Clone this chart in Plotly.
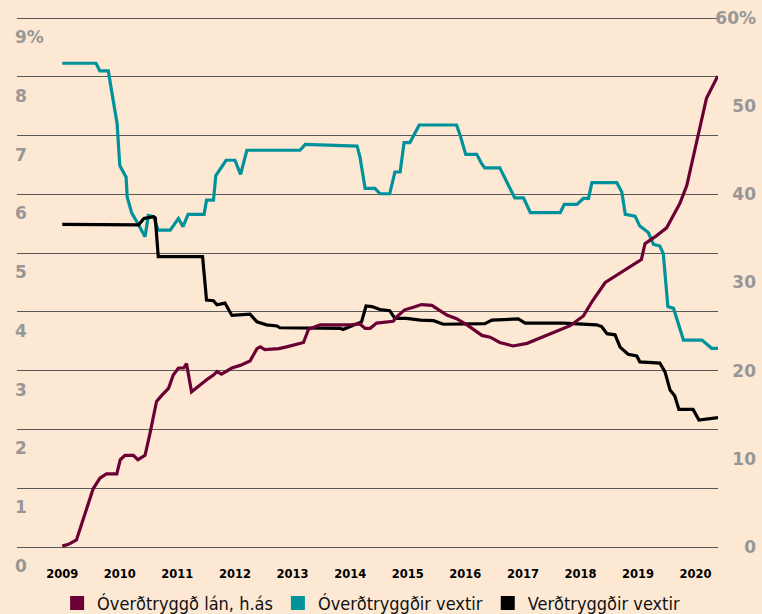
import plotly.graph_objects as go

# ---------------- data ----------------
# Óverðtryggð lán, h.ás (right axis, %)
loan_dates = ["2009-01-01","2009-02-10","2009-04-01","2009-05-26","2009-07-16","2009-08-28","2009-10-08","2009-12-13",
              "2010-01-04","2010-02-03","2010-03-28","2010-04-26","2010-06-10","2010-07-09","2010-08-22","2010-09-24",
              "2010-11-06","2010-12-06","2011-01-08","2011-02-10","2011-02-28","2011-04-01","2011-05-26","2011-07-16",
              "2011-08-18","2011-09-09","2011-10-08","2011-10-30","2011-12-13","2012-02-03","2012-04-06","2012-05-20",
              "2012-06-10","2012-07-09","2012-09-02","2012-10-05","2012-11-24","2013-01-08","2013-03-11","2013-04-12",
              "2013-06-25","2014-01-01","2014-03-04","2014-04-06","2014-05-08","2014-06-18","2014-10-01","2014-10-23",
              "2014-12-13","2015-02-06","2015-03-29","2015-06-03","2015-09-06","2015-11-07","2016-01-12","2016-04-16",
              "2016-06-07","2016-08-07","2016-10-30","2017-01-27","2017-05-31","2017-08-04","2017-10-27","2018-01-19",
              "2018-03-14","2018-06-07","2018-09-09","2019-01-22","2019-02-14","2019-04-20","2019-07-01","2019-09-24",
              "2019-11-06","2019-12-16","2020-01-30","2020-03-10","2020-05-20"]
loan_values = [0.1,0.3,0.8,3.8,6.6,7.8,8.3,8.3,
               9.9,10.4,10.4,9.9,10.4,12.7,16.5,17.2,
               18.0,19.5,20.3,20.3,20.8,17.6,18.4,19.1,
               19.5,19.9,19.6,19.8,20.3,20.6,21.1,22.5,
               22.7,22.4,22.5,22.5,22.7,22.9,23.2,24.7,
               25.2,25.2,25.3,24.8,24.8,25.4,25.6,26.1,
               26.9,27.2,27.5,27.4,26.3,25.9,25.2,24.0,
               23.8,23.2,22.8,23.1,24.0,24.4,25.1,26.2,
               27.8,30.0,31.1,32.6,34.4,35.2,36.2,39.0,
               41.0,44.3,47.7,50.9,53.4]

# Óverðtryggðir vextir (left axis, %)
nominal_dates = ["2009-01-01","2009-08-03","2009-08-28","2009-10-20","2009-11-10","2009-12-15","2010-01-01","2010-02-10",
                 "2010-02-17","2010-03-18","2010-04-20","2010-06-10","2010-07-01","2010-08-03","2010-09-02","2010-11-17",
                 "2011-01-08","2011-02-06","2011-03-10","2011-06-20","2011-07-05","2011-08-18","2011-09-02","2011-11-06",
                 "2012-01-01","2012-02-06","2012-03-17","2013-02-17","2013-03-22","2014-02-14","2014-03-04","2014-04-06",
                 "2014-06-07","2014-07-09","2014-09-09","2014-10-12","2014-11-14","2014-12-09","2015-01-15","2015-03-15",
                 "2015-11-07","2015-11-29","2016-01-04","2016-03-14","2016-04-12","2016-05-04","2016-08-07","2016-11-10",
                 "2017-01-04","2017-02-17","2017-08-26","2017-09-20","2017-12-09","2018-01-19","2018-02-21","2018-03-14",
                 "2018-08-19","2018-09-20","2018-10-12","2018-12-13","2019-01-12","2019-03-07","2019-04-09","2019-05-19",
                 "2019-06-10","2019-07-09","2019-08-14","2019-10-16","2020-02-10","2020-04-12","2020-05-22"]
nominal_values = [8.23,8.23,8.10,8.10,7.76,7.20,6.49,6.29,
                  5.95,5.68,5.53,5.28,5.64,5.62,5.39,5.39,
                  5.59,5.45,5.66,5.66,5.90,5.90,6.32,6.58,
                  6.58,6.34,6.75,6.75,6.85,6.82,6.64,6.10,
                  6.10,6.01,6.01,6.38,6.38,6.88,6.88,7.18,
                  7.18,7.01,6.68,6.68,6.53,6.45,6.45,5.94,
                  5.94,5.69,5.69,5.83,5.83,5.93,5.93,6.20,
                  6.20,6.04,5.66,5.63,5.46,5.35,5.15,5.12,
                  4.99,4.09,4.06,3.52,3.52,3.38,3.38]

# Verðtryggðir vextir (left axis, %)
indexed_dates = ["2009-01-01","2010-04-30","2010-06-03","2010-08-03","2010-08-14","2010-09-02","2011-06-10","2011-07-05",
                 "2011-08-18","2011-09-09","2011-10-30","2011-12-13","2012-04-06","2012-05-20","2012-07-20","2012-09-24",
                 "2012-10-12","2013-04-01","2013-10-30","2013-11-17","2014-01-22","2014-03-14","2014-04-12","2014-05-19",
                 "2014-07-09","2014-09-09","2014-10-12","2014-12-24","2015-03-22","2015-06-14","2015-08-15","2015-11-29",
                 "2016-05-04","2016-06-18","2016-12-02","2017-01-15","2017-09-13","2018-04-12","2018-05-15","2018-06-18",
                 "2018-08-08","2018-09-09","2018-10-30","2018-12-24","2019-01-12","2019-05-19","2019-06-21","2019-07-23",
                 "2019-08-22","2019-09-17","2019-12-16","2020-01-22","2020-05-22"]
indexed_values = [5.49,5.48,5.59,5.62,5.60,4.94,4.94,4.20,
                  4.19,4.12,4.15,3.94,3.96,3.83,3.78,3.76,
                  3.73,3.72,3.72,3.70,3.78,3.83,4.10,4.09,
                  4.04,4.02,3.89,3.89,3.86,3.85,3.79,3.79,
                  3.80,3.86,3.88,3.81,3.81,3.78,3.75,3.63,
                  3.61,3.40,3.28,3.25,3.15,3.13,2.98,2.67,
                  2.57,2.34,2.34,2.16,2.20]

series_names = ["Óverðtryggð lán, h.ás", "Óverðtryggðir vextir", "Verðtryggðir vextir"]

left_tickvals = [0, 1, 2, 3, 4, 5, 6, 7, 8, 9]
left_ticktext = ["0", "1", "2", "3", "4", "5", "6", "7", "8", "9%"]
right_tickvals = [0, 10, 20, 30, 40, 50, 60]
right_ticktext = ["0", "10", "20", "30", "40", "50", "60%"]
x_range = ["2008-03-20", "2020-05-22"]

# ---------------- style ----------------
BG = "#FCE8D3"
MAROON = "#6B0034"
TEAL = "#00929A"
BLACK = "#000000"
GRID = "#5a5a5a"
TICKGRAY = "#979797"
LW = 3.2
PADPX = 2                     # extra px above/below so edge gridlines are drawn
UNIT_PX = 58.8                # px per left-axis unit
EPS = PADPX / UNIT_PX

fig = go.Figure()
fig.add_trace(go.Scatter(x=nominal_dates, y=nominal_values, mode="lines",
                         line=dict(color=TEAL, width=LW), showlegend=False, yaxis="y"))
fig.add_trace(go.Scatter(x=indexed_dates, y=indexed_values, mode="lines",
                         line=dict(color=BLACK, width=LW), showlegend=False, yaxis="y"))
fig.add_trace(go.Scatter(x=loan_dates, y=loan_values, mode="lines",
                         line=dict(color=MAROON, width=LW), showlegend=False, yaxis="y2"))

# legend entries (square swatches)
for name, col in zip(series_names, [MAROON, TEAL, BLACK]):
    fig.add_trace(go.Scatter(x=[None], y=[None], mode="markers", name=name,
                             marker=dict(symbol="square", size=14, color=col)))

W, H = 762, 614
ml, mr, mt, mb = 17, 2, 18 - PADPX, 67 - PADPX
plot_right = 718
fig.update_layout(
    width=W, height=H,
    margin=dict(l=ml, r=mr, t=mt, b=mb, pad=0, autoexpand=False),
    paper_bgcolor=BG, plot_bgcolor=BG,
    xaxis=dict(domain=[0, (plot_right - ml) / (W - ml - mr)], range=x_range, type="date",
               automargin=False,
               showgrid=False, zeroline=False, showline=False,
               tick0="2009-01-01", dtick="M12", tickformat="%Y",
               ticks="outside", ticklen=0, ticklabelstandoff=16 - PADPX,
               tickfont=dict(family="DejaVu Sans", size=11.5, color="#000000", weight="bold")),
    yaxis=dict(range=[-EPS, 9 + EPS], tickvals=left_tickvals, ticktext=left_ticktext,
               automargin=False,
               showgrid=True, gridcolor=GRID, gridwidth=1.2, zeroline=False, showline=False,
               ticklabelposition="inside", ticklabeloverflow="allow", ticklabelshift=19,
               ticklabelstandoff=-5,
               tickfont=dict(family="DejaVu Sans", size=17, color=TICKGRAY, weight="bold")),
    yaxis2=dict(range=[-EPS * 60 / 9, 60 + EPS * 60 / 9], tickvals=right_tickvals, ticktext=right_ticktext,
                automargin=False,
                overlaying="y", anchor="free", position=1.0, side="right",
                showgrid=False, zeroline=False, showline=False,
                ticklabelposition="inside", ticklabeloverflow="allow", ticklabelstandoff=1,
                tickfont=dict(family="DejaVu Sans", size=17, color=TICKGRAY, weight="bold")),
    legend=dict(orientation="h", x=0.054, xanchor="left", y=-0.102, yanchor="middle",
                bgcolor="rgba(0,0,0,0)", borderwidth=0,
                font=dict(family="Liberation Sans Narrow, DejaVu Sans Condensed, sans-serif", size=18, color="#111111")),
)

fig.write_html("out.html", config={"displayModeBar": False},
               post_script="document.body.style.margin='0';document.body.style.background='%s';" % BG)
